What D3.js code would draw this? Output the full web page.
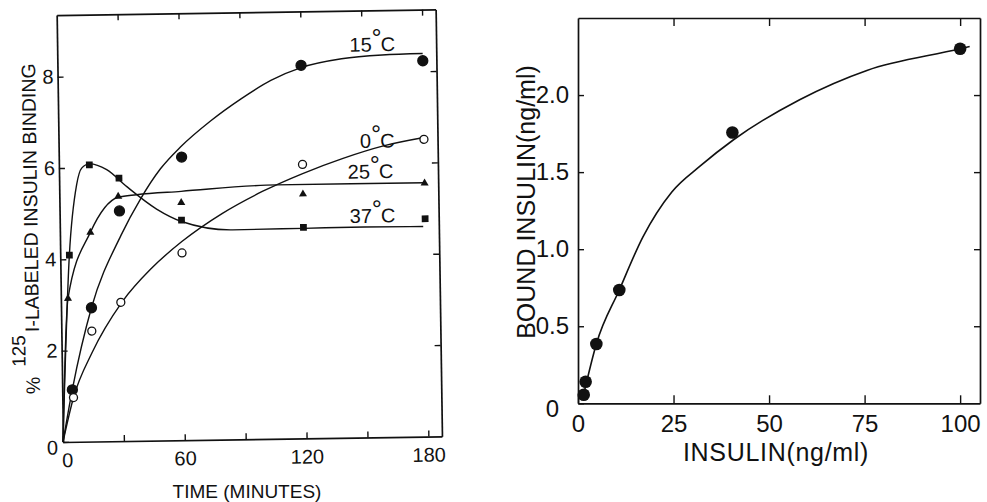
<!DOCTYPE html>
<html>
<head>
<meta charset="utf-8">
<script src="https://cdn.jsdelivr.net/npm/d3@7"></script>
<style>
  body { margin: 0; background: #fff; }
  svg { display: block; }
  text { font-family: "Liberation Sans", Arial, sans-serif; fill: #111; }
  .num { font-family: "Liberation Sans Narrow", "Liberation Sans", Arial, sans-serif; }
</style>
</head>
<body>
<svg id="chart" width="987" height="502"></svg>
<script>
// ---------- Time course of 125I-insulin binding at four temperatures ----------
const timeTicks = [0, 30, 60, 90, 120, 150, 180];
const timeLabels = [0, 60, 120, 180];
const bindTicks = [0, 2, 4, 6, 8];

// measured points (minutes, % bound)
const t15 = [5, 15, 29.5, 60.5, 120, 180];
const v15 = [1.14, 2.93, 5.04, 6.20, 8.17, 8.23];
const t0 = [5.5, 15, 29.5, 60, 120, 180];
const v0 = [0.97, 2.42, 3.04, 4.10, 6.00, 6.51];
const t25 = [3.5, 15, 29, 60, 120, 180];
const v25 = [3.14, 4.58, 5.36, 5.20, 5.35, 5.55];
const t37 = [4.5, 15, 29.5, 60, 120, 180];
const v37 = [4.09, 6.06, 5.76, 4.82, 4.62, 4.77];

// hand-fitted curves through each series
const fit15T = [0, 5, 15, 30, 40, 50, 60, 75, 90, 105, 120, 140, 160, 180];
const fit15V = [0, 1.15, 2.93, 4.50, 5.30, 5.95, 6.42, 6.98, 7.45, 7.85, 8.12, 8.30, 8.37, 8.39];
const fit0T = [0, 5.5, 15, 30, 45, 60, 80, 100, 120, 140, 160, 180];
const fit0V = [0, 0.97, 1.95, 3.04, 3.78, 4.35, 4.95, 5.42, 5.80, 6.12, 6.38, 6.55];
const fit25T = [0, 3.5, 15, 29, 38, 60, 107, 180];
const fit25V = [0, 3.14, 4.58, 5.34, 5.39, 5.45, 5.56, 5.56];
const fit37T = [0, 4.5, 8.6, 11.2, 15, 23.5, 33.3, 47.8, 60, 85, 120, 150, 179];
const fit37V = [0, 4.09, 5.63, 5.99, 6.08, 5.95, 5.57, 5.07, 4.79, 4.59, 4.60, 4.61, 4.60];

// ---------- Saturation of insulin binding ----------
const insulinTicks = [0, 25, 50, 75, 100];
const boundTicks = [0, 0.5, 1.0, 1.5, 2.0];
const insulin = [1.5, 2.0, 4.8, 10.8, 40.4, 100];
const bound = [0.055, 0.14, 0.385, 0.735, 1.757, 2.30];
const fitInsX = [1.5, 4.8, 10.8, 17, 24.5, 32, 40.7, 58, 75.6, 100, 102.5];
const fitInsY = [0.06, 0.385, 0.735, 1.08, 1.37, 1.54, 1.71, 1.97, 2.16, 2.30, 2.315];

const svg = d3.select("#chart");
const ink = "#111";

// ================= left panel =================
const L = { x: 63, y: 15, w: 379, h: 427, rot: -0.85 };
const gL = svg.append("g")
  .attr("transform", `rotate(${L.rot} ${L.x} ${L.y + L.h}) translate(${L.x},${L.y})`);
const xL = d3.scaleLinear().domain([0, 186.7]).range([0, L.w]);
const yL = d3.scaleLinear().domain([0, 9.35]).range([L.h, 0]);

function styleAxis(g, cls, size) {
  g.attr("color", ink).attr("font-family", null).attr("font-size", null);
  g.select(".domain").attr("stroke-width", 1.7);
  g.selectAll(".tick line").attr("stroke-width", 1.4);
  g.selectAll(".tick text").attr("class", cls).style("font-size", size + "px");
}

gL.append("g").attr("transform", `translate(0,${L.h})`)
  .call(d3.axisBottom(xL).tickValues(timeTicks).tickSize(-6).tickSizeOuter(0).tickPadding(11)
    .tickFormat(d => timeLabels.includes(d) ? d : ""))
  .call(g => styleAxis(g, "num", 20))
  .call(g => g.selectAll(".tick text").filter(d => d === 0).attr("dx", 4));
gL.append("g")
  .call(d3.axisTop(xL).tickValues(timeTicks.slice(1)).tickSize(-6).tickSizeOuter(0).tickFormat(""))
  .call(g => styleAxis(g, "num", 20));
gL.append("g")
  .call(d3.axisLeft(yL).tickValues(bindTicks).tickSize(-6).tickSizeOuter(0).tickPadding(4))
  .call(g => styleAxis(g, "num", 20))
  .call(g => g.selectAll(".tick text").filter(d => d === 0).attr("x", -5).attr("dy", "0.6em"));
gL.append("g").attr("transform", `translate(${L.w},0)`)
  .call(d3.axisRight(yL).tickValues(bindTicks.slice(1)).tickSize(-6).tickSizeOuter(0).tickFormat(""))
  .call(g => styleAxis(g, "num", 20));

const lineL = d3.line().x(d => xL(d[0])).y(d => yL(d[1])).curve(d3.curveMonotoneX);
const series = [
  { name: "15", t: t15, v: v15, ft: fit15T, fv: fit15V, mark: "disc", lab: [144, 8.45] },
  { name: "0", t: t0, v: v0, ft: fit0T, fv: fit0V, mark: "ring", lab: [148.5, 6.34] },
  { name: "25", t: t25, v: v25, ft: fit25T, fv: fit25V, mark: "tri", lab: [142.2, 5.67] },
  { name: "37", t: t37, v: v37, ft: fit37T, fv: fit37V, mark: "sq", lab: [142.9, 4.70] }
];

series.forEach(s => {
  gL.append("path")
    .datum(d3.zip(s.ft, s.fv))
    .attr("d", lineL)
    .attr("fill", "none").attr("stroke", ink).attr("stroke-width", 1.4);
});

series.forEach(s => {
  const pts = d3.zip(s.t, s.v);
  const g = gL.append("g");
  if (s.mark === "disc" || s.mark === "ring") {
    g.selectAll("circle").data(pts).join("circle")
      .attr("cx", d => xL(d[0])).attr("cy", d => yL(d[1]))
      .attr("r", s.mark === "disc" ? 5 : 4)
      .attr("fill", s.mark === "disc" ? ink : "#fff")
      .attr("stroke", ink).attr("stroke-width", 1.3);
  } else {
    const sym = d3.symbol().type(s.mark === "tri" ? d3.symbolTriangle : d3.symbolSquare)
      .size(s.mark === "tri" ? 28 : 46);
    g.selectAll("path").data(pts).join("path")
      .attr("transform", d => `translate(${xL(d[0])},${yL(d[1])})`)
      .attr("d", sym).attr("fill", ink);
  }
  const t = gL.append("text").attr("class", "num")
    .attr("x", xL(s.lab[0])).attr("y", yL(s.lab[1]))
    .style("font-size", "20px");
  t.append("tspan").text(s.name);
  t.append("tspan").text("°").attr("dy", -5).attr("dx", 0).style("font-size", "25px")
    .style("font-family", "'Liberation Sans', Arial, sans-serif");
  t.append("tspan").text("C").attr("dy", 5).attr("dx", -1);
});

// axis titles
svg.append("text")
  .attr("x", 247).attr("y", 498).attr("text-anchor", "middle")
  .style("font-size", "19px").text("TIME (MINUTES)");

const yTitle = svg.append("text")
  .attr("transform", "translate(40,394) rotate(-90.85)")
  .style("font-size", "19.5px");
yTitle.append("tspan").text("%");
yTitle.append("tspan").attr("dx", 10).attr("dy", -14).style("font-size", "19px").text("125");
yTitle.append("tspan").attr("dx", 3).attr("dy", 14).text("I-LABELED INSULIN BINDING");

// ================= right panel =================
const R = { x: 578, y: 18, w: 402, h: 385.3 };
const gR = svg.append("g").attr("transform", `translate(${R.x},${R.y})`);
const xR = d3.scaleLinear().domain([0, 105.2]).range([0, R.w]);
const yR = d3.scaleLinear().domain([0, 2.5]).range([R.h, 0]);

gR.append("g").attr("transform", `translate(0,${R.h})`)
  .call(d3.axisBottom(xR).tickValues(insulinTicks).tickSize(-8).tickSizeOuter(0).tickPadding(12))
  .call(g => styleAxis(g, "", 24));
gR.append("g")
  .call(d3.axisTop(xR).tickValues(insulinTicks.slice(1)).tickSize(-8).tickSizeOuter(0).tickFormat(""))
  .call(g => styleAxis(g, "", 24));
gR.append("g")
  .call(d3.axisLeft(yR).tickValues(boundTicks).tickSize(-6).tickSizeOuter(0).tickPadding(9)
    .tickFormat(d => d === 0 ? "0" : d3.format(".1f")(d)))
  .call(g => styleAxis(g, "", 24))
  .call(g => g.selectAll(".tick text").filter(d => d === 0).attr("x", -19).attr("dy", "0.55em"));
gR.append("g").attr("transform", `translate(${R.w},0)`)
  .call(d3.axisRight(yR).tickValues(boundTicks.slice(1)).tickSize(-6).tickSizeOuter(0).tickFormat(""))
  .call(g => styleAxis(g, "", 24));

gR.append("path")
  .datum(d3.zip(fitInsX, fitInsY))
  .attr("d", d3.line().x(d => xR(d[0])).y(d => yR(d[1])).curve(d3.curveMonotoneX))
  .attr("fill", "none").attr("stroke", ink).attr("stroke-width", 1.6);

gR.selectAll("circle.pt").data(d3.zip(insulin, bound)).join("circle")
  .attr("class", "pt")
  .attr("cx", d => xR(d[0])).attr("cy", d => yR(d[1]))
  .attr("r", 6.3).attr("fill", ink);

svg.append("text")
  .attr("x", 776).attr("y", 461).attr("text-anchor", "middle")
  .style("font-size", "25px").style("letter-spacing", "0.7px").text("INSULIN(ng/ml)");
svg.append("text")
  .attr("transform", "translate(535,202) rotate(-90)").attr("text-anchor", "middle")
  .style("font-size", "25px").text("BOUND INSULIN(ng/ml)");
</script>
</body>
</html>
